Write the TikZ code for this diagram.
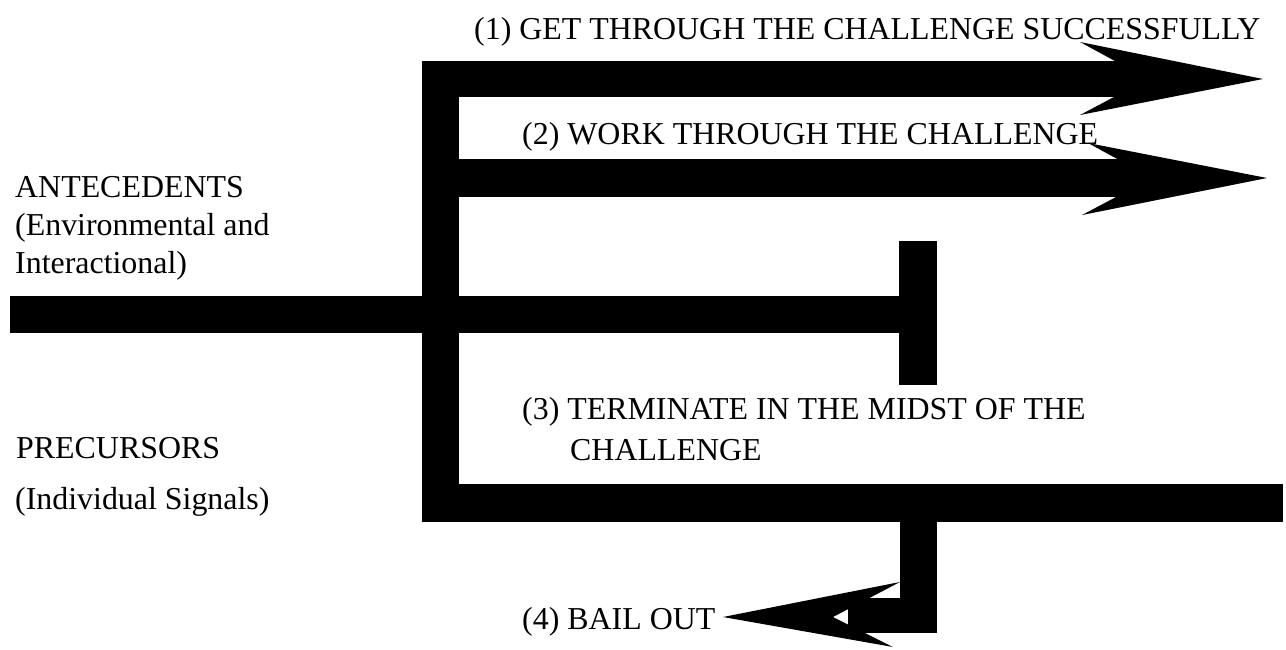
\documentclass[tikz,border=0pt]{standalone}
\usepackage{fontspec}
\setmainfont{Liberation Serif}
\begin{document}
\begin{tikzpicture}[x=1pt,y=-1pt,
  lbl/.style={anchor=base west,inner sep=0pt,font=\fontsize{31.9}{38}\selectfont},
  bar/.style={fill=black,draw=none}]
\useasboundingbox (0,0) rectangle (1286,649);
\fill[white] (0,0) rectangle (1286,649);
% vertical trunk
\fill[bar] (422,61) rectangle (459,522);
% branch 1
\fill[bar] (422,61) rectangle (1150,97);
\fill[bar] (1080,42) -- (1263,79) -- (1080,115) -- (1148,79) -- cycle;
% branch 2
\fill[bar] (459,159) rectangle (1152,197);
\fill[bar] (1088,143) -- (1267,178) -- (1082,215) -- (1152,178) -- cycle;
% input line and terminating bar
\fill[bar] (10,296) rectangle (899,333);
\fill[bar] (899,241) rectangle (937,385);
% bottom branch
\fill[bar] (422,484) rectangle (1283,522);
\fill[bar] (900,520) rectangle (937,633);
\fill[bar] (848,598) rectangle (937,633);
\fill[bar] (900,582) -- (723,617) -- (893,647) -- (833,617) -- cycle;
% labels
\node[lbl] (t1) at (474,39) {(1) GET THROUGH THE CHALLENGE SUCCESSFULLY};
\node[lbl] (t2) at (522,144) {(2) WORK THROUGH THE CHALLENGE};
\node[lbl] (a1) at (15,197) {ANTECEDENTS};
\node[lbl] (a2) at (15,235) {(Environmental and};
\node[lbl] (a3) at (15,273) {Interactional)};
\node[lbl] (t3) at (522,419) {(3) TERMINATE IN THE MIDST OF THE};
\node[lbl] (t3b) at (570,460) {CHALLENGE};
\node[lbl] (p1) at (16,458) {PRECURSORS};
\node[lbl] (p2) at (15,509) {(Individual Signals)};
\node[lbl] (t4) at (522,629) {(4) BAIL OUT};
\end{tikzpicture}
\end{document}
